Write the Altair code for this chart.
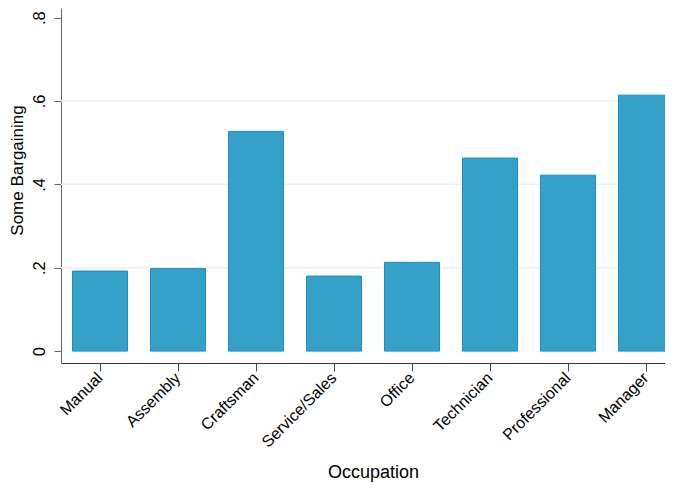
import altair as alt
import pandas as pd

occupations = ["Manual", "Assembly", "Craftsman", "Service/Sales", "Office",
               "Technician", "Professional", "Manager"]
bargaining = [0.192, 0.198, 0.527, 0.180, 0.213, 0.463, 0.422, 0.614]
grid_values = [0.2, 0.4, 0.6]
y_ticks = [0, 0.2, 0.4, 0.6, 0.8]

df = pd.DataFrame({"Occupation": occupations, "Some Bargaining": bargaining})
grid_df = pd.DataFrame({"Some Bargaining": grid_values})

FONT = "Liberation Sans"
yscale = alt.Scale(domain=[-0.0285, 0.823], nice=False, zero=False)

yaxis = alt.Axis(title="Some Bargaining", values=y_ticks, grid=False,
                 labelExpr="datum.value == 0 ? '0' : replace(format(datum.value, '.1f'), '0.', '.')",
                 labelAngle=270, labelAlign="center", labelBaseline="bottom",
                 labelFontSize=16.5, labelFont=FONT, labelColor="#000",
                 labelPadding=7, tickSize=7, tickColor="#666", domainColor="#666",
                 titleFontSize=17, titleFont=FONT, titleFontWeight="normal",
                 titleColor="#000", titlePadding=5, titleY=162)

grid = alt.Chart(grid_df).mark_rule(color="#eaf0f3", strokeWidth=1.5).encode(
    y=alt.Y("Some Bargaining:Q", scale=yscale, axis=yaxis)
)

bars = alt.Chart(df).mark_bar(
    color="#35a1c9", stroke="#1b8fc0", strokeWidth=1
).encode(
    x=alt.X("Occupation:N", sort=occupations,
            scale=alt.Scale(paddingInner=0.295, paddingOuter=0.1475, range=[0, 624]),
            axis=alt.Axis(title="Occupation", labelAngle=-45, labelAlign="right",
                          labelBaseline="middle", labelFontSize=16, labelFont=FONT,
                          labelColor="#000", labelPadding=4,
                          tickSize=8, tickColor="#444", domainColor="#333",
                          titleFontSize=18, titleFont=FONT, titleFontWeight="normal",
                          titleColor="#000", titleBaseline="alphabetic", titleY=114,
                          titleX=312)),
    y=alt.Y("Some Bargaining:Q", scale=yscale, axis=yaxis),
)

chart = alt.layer(grid, bars).properties(
    width=604, height=355,
    autosize=alt.AutoSizeParams(type="none"),
    padding={"left": 53, "top": 0, "right": 0, "bottom": 120},
).configure_view(stroke=None)

chart.save("out.html", embed_options={"renderer": "svg", "actions": False})
